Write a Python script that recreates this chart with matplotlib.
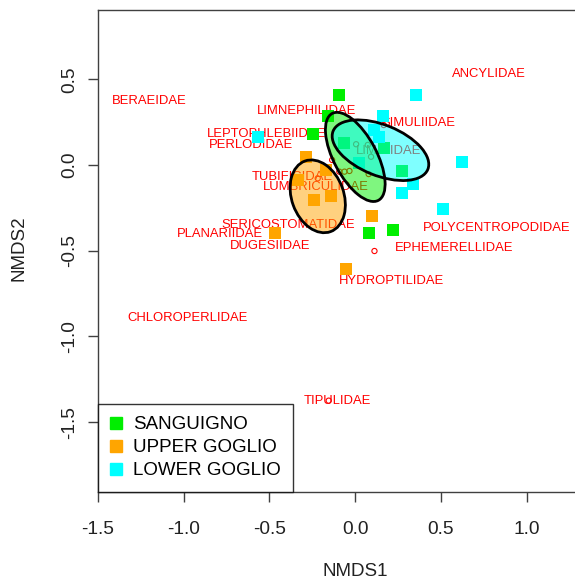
import matplotlib
matplotlib.use('Agg')
import matplotlib.pyplot as plt
from matplotlib.patches import Ellipse
from matplotlib.lines import Line2D
import numpy as np

plt.rcParams['font.family'] = ['Liberation Sans', 'DejaVu Sans']
plt.rcParams['axes.unicode_minus'] = False

# site scores per river stretch (NMDS1, NMDS2)
sang_x = [-0.092, -0.160, -0.247, -0.062, 0.171, 0.272, 0.083, 0.219]
sang_y = [0.408, 0.286, 0.181, 0.130, 0.097, -0.037, -0.399, -0.379]
upper_x = [-0.286, -0.170, -0.335, -0.237, -0.140, 0.099, -0.467, -0.053]
upper_y = [0.048, -0.030, -0.088, -0.204, -0.181, -0.298, -0.395, -0.609]
lower_x = [0.356, 0.161, -0.568, 0.113, 0.138, 0.622, 0.336, 0.274, 0.511, 0.025]
lower_y = [0.410, 0.286, 0.165, 0.204, 0.165, 0.016, -0.113, -0.165, -0.259, 0.010]

# ellipses: centre x, centre y, semi-major, semi-minor, angle (deg)
ell_sang = (0.001, 0.047, 0.287, 0.125, -62)
ell_upper = (-0.218, -0.183, 0.219, 0.152, -70)
ell_lower = (0.148, 0.086, 0.298, 0.148, -22)

# species labels
sp_names = ['BERAEIDAE', 'ANCYLIDAE', 'LIMNEPHILIDAE', 'LEPTOPHLEBIIDAE', 'PERLODIDAE',
            'SIMULIIDAE', 'LIMNIIDAE', 'TUBIFICIDAE', 'LUMBRICULIDAE', 'SERICOSTOMATIDAE',
            'PLANARIIDAE', 'DUGESIIDAE', 'POLYCENTROPODIDAE', 'EPHEMERELLIDAE',
            'HYDROPTILIDAE', 'CHLOROPERLIDAE', 'TIPULIDAE']
sp_x = [-1.201, 0.780, -0.286, -0.519, -0.605, 0.368, 0.193, -0.364, -0.228, -0.393,
        -0.787, -0.495, 0.826, 0.579, 0.212, -0.980, -0.106]
sp_y = [0.373, 0.531, 0.317, 0.181, 0.117, 0.247, 0.082, -0.068, -0.130, -0.350,
        -0.404, -0.475, -0.369, -0.484, -0.677, -0.895, -1.375]

# unlabelled species points
pt_x = [0.006, 0.074, 0.093, -0.134, -0.092, -0.062, -0.033, 0.079, 0.167, 0.113, -0.154, -0.218]
pt_y = [0.121, 0.117, 0.048, 0.029, -0.039, -0.039, -0.035, -0.053, 0.233, -0.502, -1.375, -0.078]

groups = ['SANGUIGNO', 'UPPER GOGLIO', 'LOWER GOGLIO']
colors = ['#00EE00', '#FFA500', '#00FFFF']

fig = plt.figure(figsize=(5.75, 5.82), dpi=100)
ax = fig.add_axes([98 / 575, 90 / 582, 480 / 575, 482 / 582])
ax.set_xlim(-1.5, -1.5 + 480 / 171.4)
ax.set_ylim(-1.908, -1.908 + 482 / 171.4)

# labels first, points over them, ellipses on top
for name, x, y in zip(sp_names, sp_x, sp_y):
    ax.text(x, y, name, color='red', fontsize=9.4, ha='center', va='center', zorder=1)
ax.scatter(pt_x, pt_y, s=14, facecolors='none', edgecolors='red', linewidths=0.8, zorder=1.5)

for xs, ys, c in zip([sang_x, upper_x, lower_x], [sang_y, upper_y, lower_y], colors):
    ax.scatter(xs, ys, marker='s', s=70, color=c, linewidths=0, zorder=2)

for e, c in zip([ell_sang, ell_upper, ell_lower], colors):
    ax.add_patch(Ellipse((e[0], e[1]), 2 * e[2], 2 * e[3], angle=e[4],
                         facecolor=c, alpha=0.5, edgecolor='none', zorder=3))
    ax.add_patch(Ellipse((e[0], e[1]), 2 * e[2], 2 * e[3], angle=e[4],
                         facecolor='none', edgecolor='black', linewidth=2, zorder=3.5))

ax.set_xticks([-1.5, -1.0, -0.5, 0.0, 0.5, 1.0])
ax.set_xticklabels(['-1.5', '-1.0', '-0.5', '0.0', '0.5', '1.0'])
ax.set_yticks([-1.5, -1.0, -0.5, 0.0, 0.5])
ax.set_yticklabels(['-1.5', '-1.0', '-0.5', '0.0', '0.5'], rotation=90, va='center')
ax.tick_params(direction='out', length=7, width=1, color='#404040',
               labelsize=13.8, labelcolor='#222222')
ax.tick_params(axis='x', pad=14)
ax.tick_params(axis='y', pad=7)
for s in ax.spines.values():
    s.set_color('#404040')
    s.set_linewidth(1)

ax.set_xlabel('NMDS1', fontsize=13.5, color='#222222')
ax.set_ylabel('NMDS2', fontsize=13.5, color='#222222')
ax.xaxis.set_label_coords((355.7 - 98) / 480, -(563 - 492) / 482)
ax.yaxis.set_label_coords(-(98 - 28) / 480, (492 - 248) / 482)

handles = [Line2D([], [], marker='s', linestyle='none', markersize=9, color=c) for c in colors]
leg = ax.legend(handles, groups, loc='lower left', bbox_to_anchor=(0, 0), borderaxespad=0,
                fontsize=13.5, frameon=True, fancybox=False, handletextpad=0.57,
                labelspacing=0.31, borderpad=0.68, handlelength=0.6)
leg.get_frame().set_edgecolor('black')
leg.get_frame().set_linewidth(1)
leg.set_zorder(5)

plt.savefig('out.png', dpi=100, facecolor='white')
plt.close()
